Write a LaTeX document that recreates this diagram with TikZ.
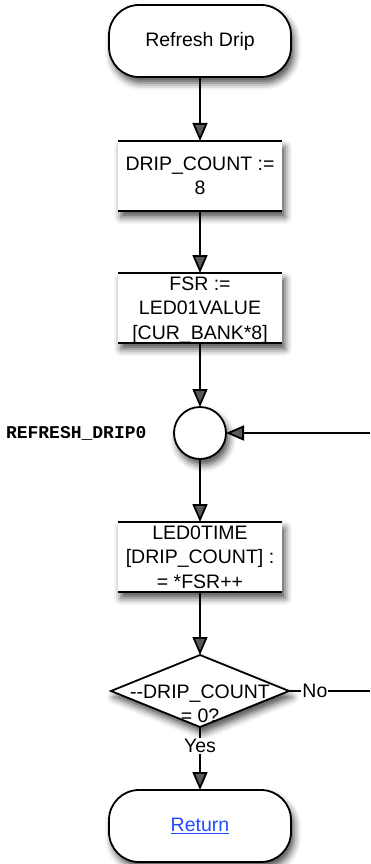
\documentclass[tikz,border=0pt]{standalone}
\usepackage{fontspec}
\setmainfont{Liberation Sans}
\newfontfamily\monob{Liberation Mono}
\usetikzlibrary{shadows.blur,arrows.meta}
\definecolor{linkblue}{RGB}{35,75,255}
\begin{document}
\begin{tikzpicture}[x=1pt,y=-1pt,
  lw/.style={line width=1.8pt},
  shad/.style={blur shadow={shadow xshift=3pt,shadow yshift=-6pt,shadow blur radius=7pt,shadow opacity=70}},
  txt/.style={font=\fontsize{19.5}{24.5}\selectfont,align=center},
  term/.style={txt,lw,draw,fill=white,rounded corners=30pt,minimum width=182pt,minimum height=72pt,outer sep=0pt,shad},
  proc/.style={txt,fill=white,minimum width=164pt,minimum height=70pt,inner sep=0pt,outer sep=0pt,shad},
  junc/.style={circle,lw,draw,fill=white,minimum size=52pt,inner sep=0pt,outer sep=0pt,shad},
  dec/.style={txt,minimum width=178pt,minimum height=72pt,inner sep=0pt,outer sep=0pt},
  arr/.style={lw,-{Triangle[width=15pt,length=18pt]}},
  conn/.style={lw},
  lab/.style={txt,fill=white,inner sep=1pt}
]
\useasboundingbox (0,0) rectangle (370,864);

\node[term] (start) at (200,41) {Refresh Drip};

\node[proc] (b1) at (200,176) {DRIP\_COUNT :=\\8};
\draw[lw] (b1.north west) -- (b1.north east);
\draw[lw] (b1.south west) -- (b1.south east);

\node[proc,text depth=0pt] (b2) at (200,308) {FSR :=\\LED01VALUE\\[0pt][CUR\_BANK*8]};
\draw[lw] (b2.north west) -- (b2.north east);
\draw[lw] (b2.south west) -- (b2.south east);

\node[junc] (c) at (200,433) {};
\node[anchor=east,font=\monob\bfseries\fontsize{18}{20}\selectfont] (lbl) at (150,433) {REFRESH\_DRIP0};

\node[proc] (b3) at (200,557) {LED0TIME\\[0pt][DRIP\_COUNT] :\\= *FSR++};
\draw[lw] (b3.north west) -- (b3.north east);
\draw[lw] (b3.south west) -- (b3.south east);

\node[dec] (d) at (200,691) {};
\fill[white,shad] (d.north) -- (d.east) -- (d.south) -- (d.west) -- cycle;
\draw[lw,line join=miter] (d.north) -- (d.east) -- (d.south) -- (d.west) -- cycle;
\node[txt] (dt) at (200,704) {-{}-DRIP\_COUNT\\= 0?};

\node[term] (ret) at (200,826) {\textcolor{linkblue}{\underline{Return}}};

\coordinate (loopin) at (370,433);
\coordinate (noend) at (370,691);

\draw[arr] (start) -- (b1);
\draw[arr] (b1) -- (b2);
\draw[arr] (b2) -- (c);
\draw[arr] (c) -- (b3);
\draw[arr] (b3) -- (d.north);
\draw[arr] (loopin) -- (c);
\draw[arr] (d.south) -- node[lab,pos=0.3] {Yes} (ret);
\draw[conn] (d.east) -- node[lab,pos=0.32] {No} (noend);
\end{tikzpicture}
\end{document}
